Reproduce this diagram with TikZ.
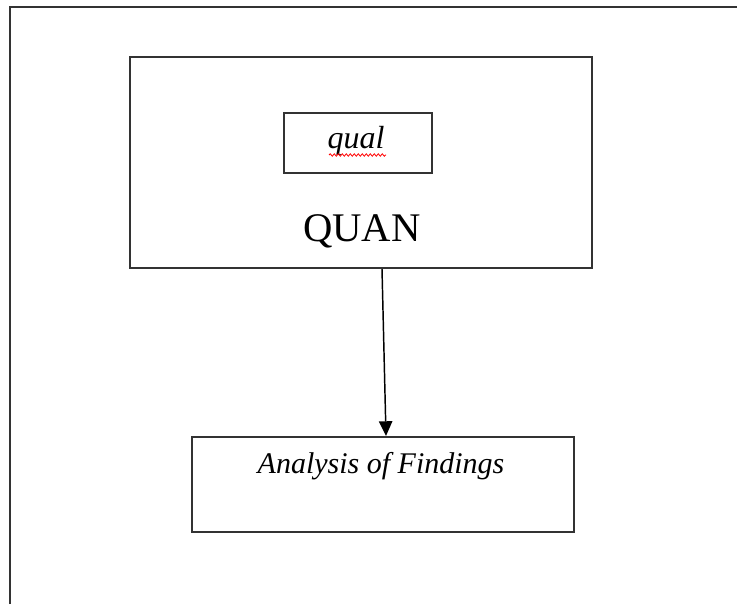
\documentclass[tikz,border=0pt]{standalone}
\usepackage{fontspec}
\setmainfont{Liberation Serif}
\usetikzlibrary{arrows.meta,decorations.pathmorphing}
\definecolor{linegray}{HTML}{333333}
\tikzset{
  boxnode/.style={draw=linegray, line width=1.6pt, rectangle, inner sep=0pt},
  flowarrow/.style={draw=black, line width=1.1pt, -{Triangle[length=11pt,width=10pt]}},
  spellwave/.style={draw=red, line width=0.6pt, decorate, decoration={snake, amplitude=0.9pt, segment length=3pt}}
}
\begin{document}
\begin{tikzpicture}[x=0.75pt, y=-0.75pt]
\useasboundingbox (0,0) rectangle (737,604);
% outer frame (top and left only)
\draw[linegray, line width=1.9pt] (10,604) -- (10,7) -- (737,7);
% boxes
\node[boxnode, minimum width=346.5pt, minimum height=158.25pt] (quan) at (361,162.5) {};
\node[boxnode, minimum width=111pt, minimum height=45pt] (qual) at (358,143) {};
\node[font=\fontsize{24}{28}\selectfont\itshape] (qualtext) at (356,141) {qual};
\node[font=\fontsize{30.5}{34}\selectfont] (quantext) at (362,231) {QUAN};
\node[boxnode, minimum width=286.5pt, minimum height=71.25pt] (ana) at (383,484.5) {};
\node[font=\fontsize{22.5}{26}\selectfont\itshape] (anatext) at (381,466) {Analysis of Findings};
% spell-check underline
\coordinate (w1) at (329,155);
\coordinate (w2) at (386,155);
\draw[spellwave] (w1) -- (w2);
% arrow
\draw[flowarrow] ([xshift=15.75pt]quan.south) -- ([xshift=2.25pt]ana.north);
\end{tikzpicture}
\end{document}
